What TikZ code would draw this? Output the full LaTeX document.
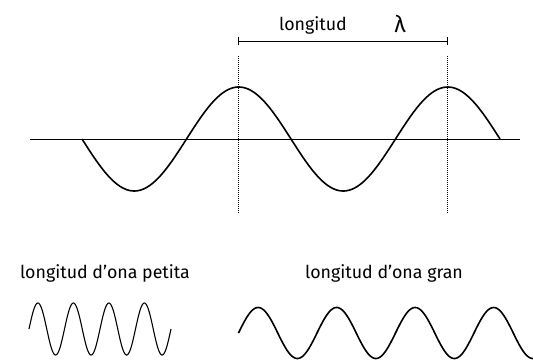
\documentclass[tikz,border=0pt]{standalone}
\usepackage{fontspec}
\setmainfont{Fira Sans}
\begin{document}
\begin{tikzpicture}[x=1pt,y=-1pt,
  lbl/.style={font=\fontsize{17.8}{20}\selectfont, inner sep=0pt, anchor=base},
  wave/.style={line width=1.6pt, line join=round},
  thinwave/.style={line width=1.1pt, line join=round},
  guide/.style={line width=0.9pt, dash pattern=on 1pt off 1pt},
  dim/.style={line width=0.9pt}]
\useasboundingbox (0,0) rectangle (533,360);
% axis
\coordinate (axL) at (30,139);
\coordinate (axR) at (520,139);
\draw[line width=1pt] (axL) -- (axR);
% main wave
\draw[wave] plot[domain=82:500, samples=200] (\x, {139+52*sin((\x-82)/209*360)});
% dotted guides
\coordinate (g1t) at (238,56); \coordinate (g1b) at (238,214);
\coordinate (g2t) at (447,56); \coordinate (g2b) at (447,214);
\draw[guide] (g1t) -- (g1b);
\draw[guide] (g2t) -- (g2b);
% dimension line
\coordinate (d1) at (238,41); \coordinate (d2) at (447,41);
\draw[dim] (d1) -- (d2);
\draw[dim] ([yshift=-4pt]d1) -- ([yshift=4pt]d1);
\draw[dim] ([yshift=-4pt]d2) -- ([yshift=4pt]d2);
\node[lbl] (long) at (313,30) {longitud};
\node[inner sep=0pt, anchor=base, font=\fontsize{23}{26}\selectfont] (lam) at (400,32) {λ};
% bottom labels
\node[lbl] (small) at (105,278) {longitud d’ona petita};
\node[lbl] (big) at (384,278) {longitud d’ona gran};
% small wavelength wave
\draw[thinwave] plot[domain=29:171, samples=300] (\x, {329-26*sin((\x-29)/35.5*360)});
% large wavelength wave
\begin{scope}
\clip (0,0) rectangle (533,360);
\draw[wave] plot[domain=238.5:533, samples=300] (\x, {333-25.5*sin((\x-238.5)/78.5*360)});
\end{scope}
\end{tikzpicture}
\end{document}
